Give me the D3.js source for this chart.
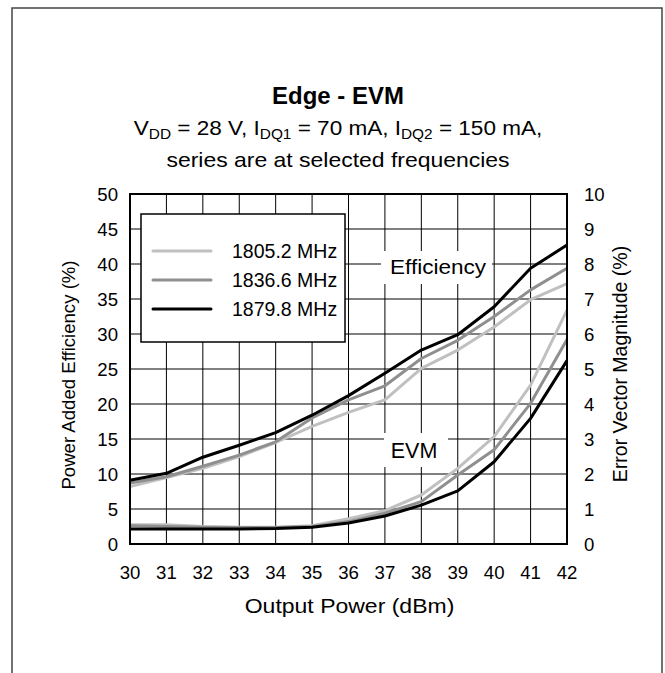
<!DOCTYPE html>
<html>
<head>
<meta charset="utf-8">
<script src="https://cdn.jsdelivr.net/npm/d3@7"></script>
<style>
  body { margin: 0; background: #fff; }
  text { font-family: "Liberation Sans", Arial, sans-serif; fill: #000; }
</style>
</head>
<body>
<div id="chart"></div>
<script>
// output power (dBm)
const power = [30, 31, 32, 33, 34, 35, 36, 37, 38, 39, 40, 41, 42];

// power added efficiency (%) per frequency
const pae1805 = [8.2, 9.5, 10.8, 12.5, 14.5, 16.8, 18.8, 20.6, 25.1, 27.7, 31.0, 34.9, 37.2];
const pae1836 = [8.7, 9.6, 11.1, 12.7, 14.6, 18.0, 20.6, 22.6, 26.5, 29.1, 32.5, 36.3, 39.4];
const pae1879 = [9.1, 10.1, 12.4, 14.1, 15.9, 18.4, 21.2, 24.4, 27.7, 29.9, 33.9, 39.4, 42.7];

// error vector magnitude (%) per frequency
const evm1805 = [0.55, 0.55, 0.5, 0.48, 0.48, 0.52, 0.72, 0.95, 1.4, 2.16, 3.07, 4.54, 6.68];
const evm1836 = [0.52, 0.5, 0.48, 0.47, 0.47, 0.5, 0.64, 0.88, 1.21, 1.97, 2.69, 4.02, 5.84];
const evm1879 = [0.43, 0.43, 0.43, 0.43, 0.44, 0.48, 0.6, 0.8, 1.11, 1.52, 2.35, 3.59, 5.24];

const seriesNames = ['1805.2 MHz', '1836.6 MHz', '1879.8 MHz'];
const seriesColors = ['#c0c0c0', '#8f8f8f', '#000000'];
const paeTicks = [0, 5, 10, 15, 20, 25, 30, 35, 40, 45, 50];
const evmTicks = [0, 1, 2, 3, 4, 5, 6, 7, 8, 9, 10];

const width = 665, height = 673;
const plot = { left: 130, right: 567, top: 194, bottom: 544 };

const svg = d3.select('#chart').append('svg')
    .attr('width', width)
    .attr('height', height);

// outer frame (runs off the bottom of the picture)
svg.append('path')
    .attr('d', 'M12,690 L12,8 L662,8 L662,690')
    .attr('fill', 'none')
    .attr('stroke', '#444')
    .attr('stroke-width', 1.5);

const x = d3.scaleLinear().domain([30, 42]).range([plot.left, plot.right]);
const yL = d3.scaleLinear().domain([0, 50]).range([plot.bottom, plot.top]);
const yR = d3.scaleLinear().domain([0, 10]).range([plot.bottom, plot.top]);

// text is a little wider than it is tall in the original
function label(parent, px, py, size, sx) {
    return parent.append('text')
        .attr('transform', 'translate(' + px + ',' + py + ') scale(' + sx + ',1)')
        .attr('font-size', size + 'px');
}

// titles
const cx = 338;
label(svg, cx, 104, 23.5, 1.02)
    .attr('text-anchor', 'middle')
    .attr('font-weight', 'bold')
    .text('Edge - EVM');

const sub = label(svg, cx, 135, 20.5, 1.1)
    .attr('text-anchor', 'middle');
sub.append('tspan').text('V');
sub.append('tspan').attr('font-size', '14px').attr('dy', 4).text('DD');
sub.append('tspan').attr('dy', -4).text(' = 28 V,  I');
sub.append('tspan').attr('font-size', '14px').attr('dy', 4).text('DQ1');
sub.append('tspan').attr('dy', -4).text(' = 70 mA, I');
sub.append('tspan').attr('font-size', '14px').attr('dy', 4).text('DQ2');
sub.append('tspan').attr('dy', -4).text(' = 150 mA,');

label(svg, cx, 167, 20.5, 1.12)
    .attr('text-anchor', 'middle')
    .text('series are at selected frequencies');

// grid
const grid = svg.append('g');
grid.selectAll('.vgrid')
    .data(power)
    .enter().append('line')
    .attr('x1', d => x(d)).attr('x2', d => x(d))
    .attr('y1', plot.top).attr('y2', plot.bottom)
    .attr('stroke', '#000').attr('stroke-width', 1);
grid.selectAll('.hgrid')
    .data(paeTicks)
    .enter().append('line')
    .attr('x1', plot.left).attr('x2', plot.right)
    .attr('y1', d => yL(d)).attr('y2', d => yL(d))
    .attr('stroke', '#000').attr('stroke-width', 1);

// white boxes behind the in-plot labels
svg.append('rect')
    .attr('x', 381).attr('y', 251).attr('width', 111).attr('height', 33)
    .attr('fill', '#fff');
svg.append('rect')
    .attr('x', 384).attr('y', 433).attr('width', 64).attr('height', 34)
    .attr('fill', '#fff');

// series
const paeSeries = [pae1805, pae1836, pae1879];
const evmSeries = [evm1805, evm1836, evm1879];

const linePae = d3.line().x((d, i) => x(power[i])).y(d => yL(d));
const lineEvm = d3.line().x((d, i) => x(power[i])).y(d => yR(d));

const lines = svg.append('g');
paeSeries.forEach((s, k) => {
    lines.append('path')
        .attr('d', linePae(s))
        .attr('fill', 'none')
        .attr('stroke', seriesColors[k])
        .attr('stroke-width', 3)
        .attr('stroke-linejoin', 'round');
});
evmSeries.forEach((s, k) => {
    lines.append('path')
        .attr('d', lineEvm(s))
        .attr('fill', 'none')
        .attr('stroke', seriesColors[k])
        .attr('stroke-width', 3)
        .attr('stroke-linejoin', 'round');
});

// plot frame
svg.append('rect')
    .attr('x', plot.left).attr('y', plot.top)
    .attr('width', plot.right - plot.left)
    .attr('height', plot.bottom - plot.top)
    .attr('fill', 'none')
    .attr('stroke', '#000')
    .attr('stroke-width', 2);

// in-plot labels
label(svg, 438, 274, 20.5, 1.1)
    .attr('text-anchor', 'middle')
    .text('Efficiency');
label(svg, 414, 458, 21.5, 1.0)
    .attr('text-anchor', 'middle')
    .text('EVM');

// axes labels
const xt = svg.append('g');
power.forEach(d => {
    label(xt, x(d), 579, 18.6, 1.0)
        .attr('text-anchor', 'middle')
        .text(d);
});

const ytL = svg.append('g');
paeTicks.forEach(d => {
    label(ytL, 118, yL(d) + 6.5, 18.6, 1.0)
        .attr('text-anchor', 'end')
        .text(d);
});

const ytR = svg.append('g');
evmTicks.forEach(d => {
    label(ytR, 584, yR(d) + 6.5, 18.6, 1.0)
        .attr('text-anchor', 'start')
        .text(d);
});

label(svg, (plot.left + plot.right) / 2 + 1, 613, 20, 1.15)
    .attr('text-anchor', 'middle')
    .text('Output Power (dBm)');

svg.append('text')
    .attr('transform', 'translate(75,' + ((plot.top + plot.bottom) / 2 + 6) + ') rotate(-90)')
    .attr('text-anchor', 'middle')
    .attr('font-size', '18.6px')
    .text('Power Added Efficiency (%)');

svg.append('text')
    .attr('transform', 'translate(627,' + ((plot.top + plot.bottom) / 2 - 5) + ') rotate(-90)')
    .attr('text-anchor', 'middle')
    .attr('font-size', '19.5px')
    .text('Error Vector Magnitude (%)');

// legend
const legend = svg.append('g');
legend.append('rect')
    .attr('x', 141).attr('y', 214)
    .attr('width', 204).attr('height', 128)
    .attr('fill', '#fff')
    .attr('stroke', '#000')
    .attr('stroke-width', 1.5);
const rowY = d3.scaleLinear().domain([0, 2]).range([251, 309]);
seriesNames.forEach((n, k) => {
    legend.append('line')
        .attr('x1', 153).attr('x2', 211)
        .attr('y1', rowY(k)).attr('y2', rowY(k))
        .attr('stroke', seriesColors[k])
        .attr('stroke-width', 3)
        .attr('stroke-linecap', 'round');
    label(legend, 232, rowY(k) + 7, 19.5, 1.0)
        .text(n);
});
</script>
</body>
</html>
